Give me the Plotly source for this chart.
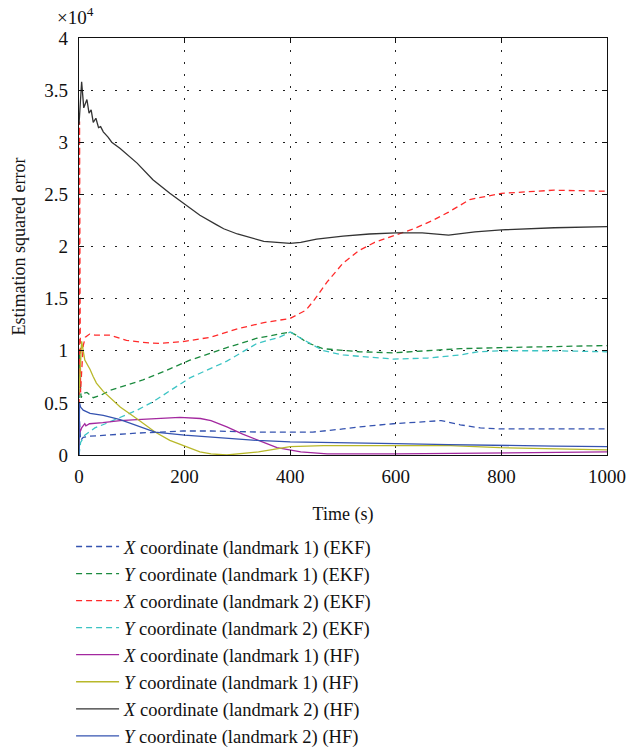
import plotly.graph_objects as go

# values in units of x10^4 (squared error)
t_ekf_x1 = [0, 1, 3, 8, 20, 45, 110, 197, 250, 343, 400, 443, 500, 532, 595, 629, 660, 686, 722, 760, 797, 900, 1000]
v_ekf_x1 = [0.05, 0.33, 0.14, 0.17, 0.18, 0.19, 0.21, 0.23, 0.23, 0.22, 0.22, 0.22, 0.25, 0.27, 0.30, 0.31, 0.32, 0.33, 0.29, 0.26, 0.25, 0.25, 0.25]

t_ekf_y1 = [0, 1, 2, 4, 8, 15, 27, 40, 59, 90, 121, 160, 210, 240, 280, 337, 380, 400, 415, 431, 462, 500, 532, 595, 660, 722, 800, 900, 1000]
v_ekf_y1 = [0.45, 1.0, 0.7, 0.55, 0.59, 0.60, 0.55, 0.57, 0.62, 0.67, 0.72, 0.80, 0.91, 0.96, 1.03, 1.12, 1.16, 1.18, 1.14, 1.08, 1.02, 1.00, 0.99, 0.98, 1.00, 1.02, 1.03, 1.04, 1.05]

t_ekf_x2 = [0, 0.5, 1, 2, 3, 5, 8, 12, 20, 30, 45, 59, 90, 121, 153, 200, 250, 300, 350, 400, 430, 446, 470, 500, 530, 560, 600, 634, 670, 700, 740, 800, 900, 1000]
v_ekf_x2 = [0.0, 1.5, 3.2, 1.5, 0.6, 0.8, 1.05, 1.13, 1.16, 1.15, 1.15, 1.15, 1.10, 1.08, 1.07, 1.09, 1.13, 1.21, 1.27, 1.31, 1.39, 1.49, 1.66, 1.84, 1.96, 2.04, 2.11, 2.17, 2.25, 2.33, 2.45, 2.51, 2.54, 2.53]

t_ekf_y2 = [0, 1, 3, 11, 30, 50, 78, 110, 140, 180, 210, 280, 337, 380, 400, 420, 443, 463, 500, 526, 595, 660, 722, 755, 800, 900, 1000]
v_ekf_y2 = [0.0, 0.05, 0.12, 0.19, 0.26, 0.30, 0.36, 0.43, 0.51, 0.64, 0.74, 0.90, 1.07, 1.13, 1.18, 1.12, 1.06, 1.00, 0.96, 0.95, 0.92, 0.93, 0.96, 0.99, 1.00, 1.00, 0.99]

t_hf_x1 = [0, 2, 5, 11, 13, 20, 45, 78, 110, 140, 191, 230, 250, 280, 310, 340, 375, 420, 470, 600, 800, 900, 1000]
v_hf_x1 = [0.30, 0.22, 0.26, 0.30, 0.28, 0.30, 0.31, 0.33, 0.34, 0.35, 0.36, 0.35, 0.33, 0.27, 0.20, 0.14, 0.07, 0.03, 0.01, 0.01, 0.02, 0.03, 0.03]

t_hf_y1 = [0, 3, 5, 11, 21, 27, 33, 46, 78, 109, 144, 172, 204, 229, 250, 280, 340, 400, 463, 595, 704, 797, 900, 1000]
v_hf_y1 = [0.60, 1.00, 1.09, 0.91, 0.82, 0.75, 0.69, 0.61, 0.46, 0.35, 0.22, 0.14, 0.08, 0.03, 0.01, 0.0, 0.03, 0.08, 0.09, 0.09, 0.09, 0.07, 0.06, 0.05]

t_hf_x2 = [0, 3, 5, 9, 15, 19, 23, 27, 32, 37, 41, 46, 55, 62, 78, 110, 140, 172, 200, 229, 260, 274, 300, 350, 400, 420, 450, 500, 550, 600, 650, 700, 750, 800, 900, 1000]
v_hf_x2 = [3.17, 3.45, 3.58, 3.33, 3.41, 3.28, 3.31, 3.19, 3.23, 3.14, 3.15, 3.10, 3.05, 3.00, 2.94, 2.80, 2.64, 2.51, 2.41, 2.30, 2.21, 2.17, 2.12, 2.05, 2.03, 2.04, 2.07, 2.10, 2.12, 2.13, 2.13, 2.11, 2.14, 2.16, 2.18, 2.19]

t_hf_y2 = [0, 1, 3, 8, 21, 46, 78, 110, 144, 200, 250, 337, 400, 500, 600, 700, 800, 900, 1000]
v_hf_y2 = [0.0, 0.50, 0.46, 0.43, 0.40, 0.38, 0.34, 0.28, 0.22, 0.19, 0.17, 0.14, 0.125, 0.12, 0.11, 0.10, 0.09, 0.085, 0.08]

y_tickvals = [0, 0.5, 1, 1.5, 2, 2.5, 3, 3.5, 4]
y_ticktext = ["0", "0.5", "1", "1.5", "2", "2.5", "3", "3.5", "4"]
x_tickvals = [0, 200, 400, 600, 800, 1000]

series = [
    ("<i>X</i> coordinate (landmark 1) (EKF)", t_ekf_x1, v_ekf_x1, "#3553b0", "6px,4px"),
    ("<i>Y</i> coordinate (landmark 1) (EKF)", t_ekf_y1, v_ekf_y1, "#1b8a3e", "6px,4px"),
    ("<i>X</i> coordinate (landmark 2) (EKF)", t_ekf_x2, v_ekf_x2, "#ff2a2a", "6px,4px"),
    ("<i>Y</i> coordinate (landmark 2) (EKF)", t_ekf_y2, v_ekf_y2, "#3cc4c4", "6px,4px"),
    ("<i>X</i> coordinate (landmark 1) (HF)", t_hf_x1, v_hf_x1, "#a3289f", "solid"),
    ("<i>Y</i> coordinate (landmark 1) (HF)", t_hf_y1, v_hf_y1, "#b8b82a", "solid"),
    ("<i>X</i> coordinate (landmark 2) (HF)", t_hf_x2, v_hf_x2, "#333333", "solid"),
    ("<i>Y</i> coordinate (landmark 2) (HF)", t_hf_y2, v_hf_y2, "#3553b0", "solid"),
]

fig = go.Figure()
for name, t, v, c, d in series:
    fig.add_trace(go.Scatter(x=t, y=v, mode="lines", name=name,
                             line=dict(color=c, width=1.3, dash=d)))

FONT = "Liberation Serif"
fig.update_layout(
    width=629, height=749,
    margin=dict(l=79, r=22, t=38, b=294, autoexpand=False),
    paper_bgcolor="white", plot_bgcolor="white",
    font=dict(family=FONT, size=19, color="#111"),
    showlegend=True,
    legend=dict(x=-0.015, y=-0.175, xanchor="left", yanchor="top",
                font=dict(family=FONT, size=18.5, color="#111"),
                bgcolor="rgba(0,0,0,0)", itemwidth=43, tracegroupgap=0),
    xaxis=dict(range=[0, 1000], tickvals=x_tickvals, ticks="inside", ticklen=5,
               tickcolor="#111", showline=True, linecolor="#111", linewidth=1.2,
               mirror="ticks", showgrid=True, gridcolor="#222", griddash="1.5px,10.5px",
               gridwidth=1, zeroline=False, automargin=False, ticklabelstandoff=4,
               title=dict(text="Time (s)", font=dict(family=FONT, size=18), standoff=21),
               tickfont=dict(family=FONT, size=19)),
    yaxis=dict(range=[0, 4], tickvals=y_tickvals, ticktext=y_ticktext, ticks="inside",
               ticklen=5, tickcolor="#111", showline=True, linecolor="#111", linewidth=1.2,
               mirror="ticks", showgrid=True, gridcolor="#222", griddash="1.5px,10.5px",
               gridwidth=1, zeroline=False, automargin=False, ticklabelstandoff=6,
               title=dict(text="Estimation squared error", font=dict(family=FONT, size=18), standoff=14),
               tickfont=dict(family=FONT, size=19)),
    annotations=[dict(text="×10<sup>4</sup>", xref="paper", yref="paper",
                      x=-0.045, y=1.02, xanchor="left", yanchor="bottom",
                      showarrow=False, font=dict(family=FONT, size=19, color="#111"))],
)

fig.write_html("out.html")
